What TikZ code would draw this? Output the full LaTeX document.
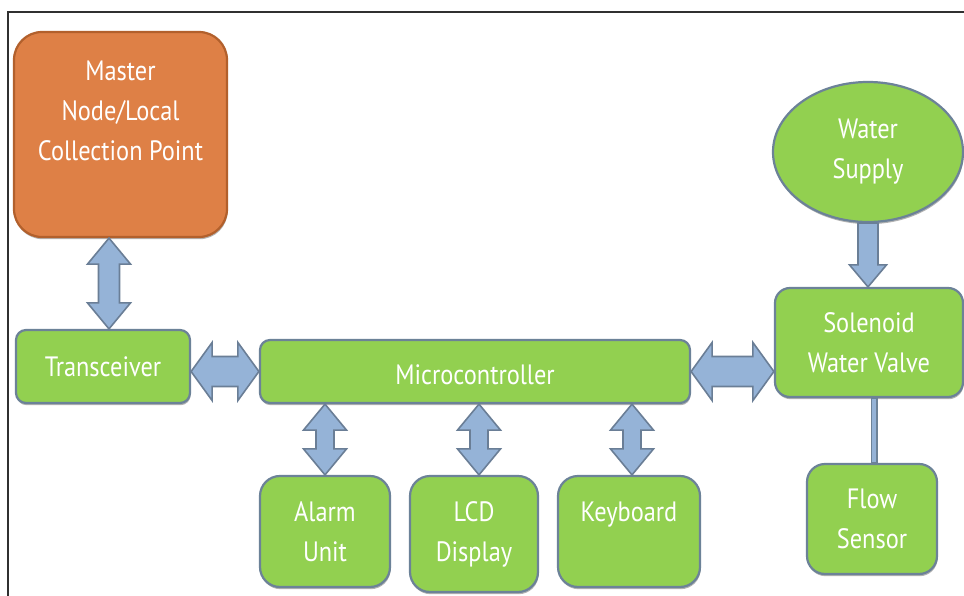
\documentclass[tikz,border=0pt]{standalone}
\usepackage{fontspec}
\setmainfont[FakeStretch=0.87]{PT Sans}
\usetikzlibrary{calc,shapes.geometric,shadows}
\definecolor{boxgreen}{RGB}{146,208,80}
\definecolor{boxborder}{RGB}{108,130,152}
\definecolor{arrfill}{RGB}{149,179,215}
\definecolor{arrborder}{RGB}{106,126,150}
\definecolor{orfill}{RGB}{222,128,70}
\definecolor{orborder}{RGB}{178,96,44}
\definecolor{framec}{RGB}{48,48,48}
\tikzset{
  blk/.style={draw=boxborder, line width=2.2pt, fill=boxgreen, text=white, align=center,
     inner sep=0pt, font=\fontsize{28}{40}\selectfont,
     drop shadow={shadow xshift=0.6pt, shadow yshift=-2.2pt, fill=black!55, opacity=0.55}},
  arr/.style={draw=arrborder, line width=1.6pt, fill=arrfill, line join=miter},
}
\newcommand\vdarrow[5]{\path[arr] let \p1=#1, \p2=#2 in (\x1,\y1) -- ({\x1+#3},{\y1-#5}) -- ({\x1+#4},{\y1-#5}) -- ({\x1+#4},{\y2+#5}) -- ({\x1+#3},{\y2+#5}) -- (\x1,\y2) -- ({\x1-#3},{\y2+#5}) -- ({\x1-#4},{\y2+#5}) -- ({\x1-#4},{\y1-#5}) -- ({\x1-#3},{\y1-#5}) -- cycle;}
\newcommand\hdarrow[5]{\path[arr] let \p1=#1, \p2=#2 in (\x1,\y1) -- ({\x1+#5},{\y1+#3}) -- ({\x1+#5},{\y1+#4}) -- ({\x2-#5},{\y1+#4}) -- ({\x2-#5},{\y1+#3}) -- (\x2,\y1) -- ({\x2-#5},{\y1-#3}) -- ({\x2-#5},{\y1-#4}) -- ({\x1+#5},{\y1-#4}) -- ({\x1+#5},{\y1-#3}) -- cycle;}
\newcommand\sdarrow[5]{\path[arr] let \p1=#1, \p2=#2 in ({\x1-#4},\y1) -- ({\x1+#4},\y1) -- ({\x1+#4},{\y2+#5}) -- ({\x1+#3},{\y2+#5}) -- (\x1,\y2) -- ({\x1-#3},{\y2+#5}) -- ({\x1-#4},{\y2+#5}) -- cycle;}
\begin{document}
\begin{tikzpicture}[x=1pt,y=-1pt]
\useasboundingbox (0,0) rectangle (964,596);
\fill[white] (0,0) rectangle (964,596);
\draw[framec, line width=2pt] (8,597) -- (8,12) -- (965,12);

\node[blk, draw=orborder, fill=orfill, rounded corners=28pt, minimum width=213pt, minimum height=205pt] (master) at (120.5,134.5) {Master\\Node/Local\\Collection Point\\[8pt]\mbox{}};
\node[blk, rounded corners=10pt, minimum width=174pt, minimum height=73pt] (trans) at (103,366.5) {Transceiver};
\node[blk, rounded corners=10pt, minimum width=430pt, minimum height=63pt] (mic) at (475,371.5) {\raisebox{-3pt}[\height][\depth]{Microcontroller}};
\node[blk, rounded corners=15pt, minimum width=188pt, minimum height=109pt] (sol) at (869,342.5) {Solenoid\\Water Valve};
\node[blk, ellipse, minimum width=190pt, minimum height=140pt] (water) at (868,152) {Water\\Supply};
\node[blk, rounded corners=18pt, minimum width=130pt, minimum height=110pt] (flow) at (872,519) {Flow\\Sensor};
\node[blk, rounded corners=20pt, minimum width=130pt, minimum height=111pt] (alarm) at (325,531.5) {Alarm\\Unit};
\node[blk, rounded corners=20pt, minimum width=128pt, minimum height=116pt] (lcd) at (474,534) {LCD\\Display};
\node[blk, rounded corners=20pt, minimum width=142pt, minimum height=111pt] (kbd) at (629,531.5) {Keyboard\\\mbox{}};

% connectors
\coordinate (mtop) at ([xshift=-11.5pt]master.south);
\vdarrow{(mtop)}{(mtop |- trans.north)}{21.5pt}{10.5pt}{26pt}
\hdarrow{(trans.east |- mic.west)}{(mic.west)}{29pt}{15pt}{21pt}
\hdarrow{(mic.east)}{(sol.west |- mic.east)}{29pt}{15pt}{21pt}
\vdarrow{(alarm.north |- mic.south)}{(alarm.north)}{21.5pt}{9pt}{26pt}
\coordinate (lcdx) at ([xshift=5pt]lcd.north);
\vdarrow{(lcdx |- mic.south)}{(lcdx)}{21.5pt}{9pt}{26pt}
\coordinate (kbdx) at ([xshift=3pt]kbd.north);
\vdarrow{(kbdx |- mic.south)}{(kbdx)}{21.5pt}{9pt}{26pt}
\sdarrow{(water.south)}{(water.south |- sol.north)}{18.5pt}{10pt}{22pt}
\coordinate (flx) at ([xshift=2pt]flow.north);
\draw[boxborder, line width=7pt] (flx |- sol.south) -- (flx);
\draw[arrfill, line width=3.5pt] ([yshift=-1pt]flx |- sol.south) -- ([yshift=1pt]flx);
\end{tikzpicture}
\end{document}
